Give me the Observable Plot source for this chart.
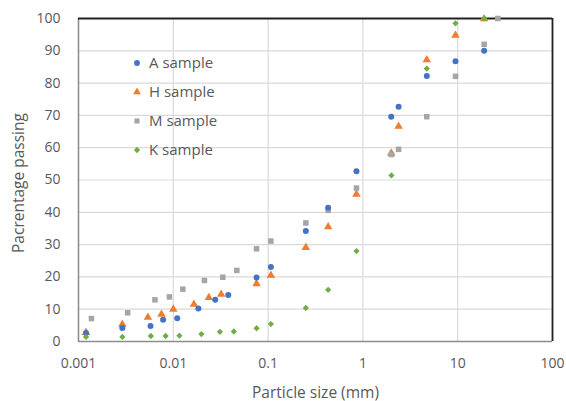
<!DOCTYPE html>
<html><head><meta charset="utf-8">
<script src="https://cdn.jsdelivr.net/npm/d3@7"></script>
<script src="https://cdn.jsdelivr.net/npm/@observablehq/plot@0.6"></script>
<style>
body{margin:0;background:#fff;font-family:"Open Sans",sans-serif;}
#wrap{position:relative;width:566px;height:401px;}
#legend{position:absolute;left:131px;top:48px;font-size:15px;color:#595959;line-height:29px;}
#legend div{display:flex;align-items:center;}
#legend svg{margin-right:6px;}
</style></head>
<body><div id="wrap"><div id="chart"></div><div id="legend"></div></div>
<script>
const seriesNames = ["A sample", "H sample", "M sample", "K sample"];
const colors = ["#4472C4", "#ED7D31", "#A5A5A5", "#70AD47"];
const symbols = ["circle", "triangle", "square", "diamond2"];

const aSize = [0.0012, 0.0029, 0.00575, 0.0078, 0.011, 0.0184, 0.0277, 0.038, 0.0755, 0.107, 0.25, 0.43, 0.855, 1.99, 2.38, 4.72, 9.48, 19];
const aPass = [2.6, 4.2, 4.8, 6.7, 7.2, 10.2, 12.9, 14.4, 19.8, 23.1, 34.2, 41.4, 52.7, 69.6, 72.7, 82.2, 86.8, 90.0];

const hSize = [0.0012, 0.0029, 0.0054, 0.0075, 0.01, 0.0165, 0.0237, 0.032, 0.0755, 0.107, 0.25, 0.43, 0.855, 1.99, 2.38, 4.72, 9.48, 19];
const hPass = [2.8, 5.3, 7.5, 8.4, 10.0, 11.5, 13.6, 14.6, 17.9, 20.5, 29.1, 35.5, 45.6, 58.3, 66.6, 87.2, 94.8, 99.9];

const mSize = [0.00137, 0.0033, 0.0064, 0.0091, 0.0126, 0.0213, 0.0333, 0.0468, 0.0755, 0.107, 0.25, 0.43, 0.855, 2.0, 2.38, 4.72, 9.48, 19, 26.5];
const mPass = [7.1, 8.9, 12.9, 13.8, 16.2, 18.9, 19.9, 22.0, 28.7, 31.1, 36.7, 40.6, 47.5, 57.9, 59.5, 69.6, 82.1, 92.0, 100];

const kSize = [0.0012, 0.0029, 0.0058, 0.0083, 0.0116, 0.0198, 0.031, 0.0435, 0.0755, 0.107, 0.25, 0.43, 0.855, 2.0, 4.72, 9.48, 19];
const kPass = [1.4, 1.4, 1.7, 1.7, 1.8, 2.3, 3.0, 3.1, 4.1, 5.4, 10.4, 16.0, 28.0, 51.4, 84.5, 98.5, 100];

const xTicks = [0.001, 0.01, 0.1, 1, 10, 100];
const xTickLabels = ["0.001", "0.01", "0.1", "1", "10", "100"];
const yTicks = [0, 10, 20, 30, 40, 50, 60, 70, 80, 90, 100];

const sizes = [aSize, hSize, mSize, kSize];
const passes = [aPass, hPass, mPass, kPass];
const data = [];
seriesNames.forEach((s, i) => sizes[i].forEach((x, j) => data.push({series: s, size: x, pass: passes[i][j]})));

const symArea = {"A sample": 38, "H sample": 46, "M sample": 44, "K sample": 30};

const chart = Plot.plot({
  width: 566, height: 401,
  marginLeft: 78, marginRight: 14, marginTop: 18, marginBottom: 60,
  style: {fontFamily: "'Open Sans', sans-serif", fontSize: "14px", color: "#595959", background: "white"},
  x: {type: "log", domain: [0.001, 100], label: null},
  y: {domain: [0, 100], label: null},
  symbol: {domain: seriesNames, range: symbols},
  color: {domain: seriesNames, range: colors},
  marks: [
    Plot.gridX(xTicks, {stroke: "#d9d9d9", strokeOpacity: 1, strokeWidth: 1.2}),
    Plot.gridY(yTicks, {stroke: "#d9d9d9", strokeOpacity: 1, strokeWidth: 1.2}),
    Plot.ruleY([0], {stroke: "#8c8c8c", strokeWidth: 1.5}),
    Plot.ruleX([0.001], {stroke: "#8c8c8c", strokeWidth: 1.5}),
    Plot.ruleY([100], {stroke: "#222", strokeWidth: 1.8}),
    Plot.ruleX([100], {stroke: "#222", strokeWidth: 1.8}),
    Plot.axisX({ticks: xTicks, tickFormat: (d) => xTickLabels[xTicks.indexOf(d)], tickSize: 0, tickPadding: 17, label: null, fontSize: 14}),
    Plot.axisY({ticks: yTicks, tickSize: 0, tickPadding: 18, label: null, fontSize: 14}),
    Plot.dot(data, {x: "size", y: "pass", symbol: "series", fill: "series", r: d => Math.sqrt(symArea[d.series]), stroke: "none"}),
    Plot.text(["Particle size (mm)"], {frameAnchor: "bottom", dy: 56, fontSize: 15.5, fill: "#595959"}),
    Plot.text(["Pacrentage passing"], {frameAnchor: "left", textAnchor: "middle", dx: -59, dy: 3, rotate: -90, fontSize: 15.5, fill: "#595959"})
  ]
});
document.getElementById("chart").appendChild(chart);

const symMap = {circle: d3.symbolCircle, triangle: d3.symbolTriangle, square: d3.symbolSquare, diamond2: d3.symbolDiamond2};
const leg = document.getElementById("legend");
seriesNames.forEach((s, i) => {
  const row = document.createElement("div");
  const sym = d3.symbol(symMap[symbols[i]], 26)();
  row.innerHTML = `<svg width="12" height="12" viewBox="-6 -6 12 12"><path d="${sym}" fill="${colors[i]}"/></svg><span>${s}</span>`;
  leg.appendChild(row);
});
</script></body></html>
